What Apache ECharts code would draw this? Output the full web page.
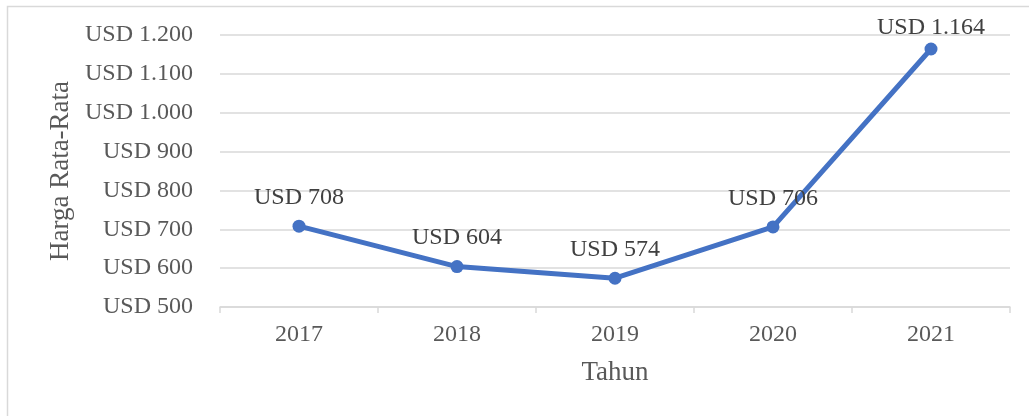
<!DOCTYPE html>
<html>
<head>
<meta charset="utf-8">
<script src="https://cdn.jsdelivr.net/npm/echarts@6/dist/echarts.min.js"></script>
<style>
  html, body { margin: 0; padding: 0; background: #fff; }
  #main { width: 1029px; height: 416px; }
</style>
</head>
<body>
<div id="main"></div>
<script>
// data
var years = ['2017', '2018', '2019', '2020', '2021']
var hargaRata = [708, 604, 574, 706, 1164]

// format angka gaya Indonesia: 1164 -> 1.164
function usd(v) {
  return 'USD ' + String(v).replace(/\B(?=(\d{3})+(?!\d))/g, '.')
}

var chart = echarts.init(document.getElementById('main'))
var font = '"Liberation Serif", "Times New Roman", serif'

// label titik terakhir lebih dekat ke titiknya (seperti gambar asli)
var seriesData = hargaRata.map(function (v, i) {
  if (i === hargaRata.length - 1) return { value: v, label: { distance: 3 } }
  return v
})

var option = {
  backgroundColor: '#fff',
  graphic: [{
    type: 'rect',
    shape: { x: 7.5, y: 6.5, width: 1040, height: 420 },
    style: { fill: 'none', stroke: '#d9d9d9', lineWidth: 1.5 },
    silent: true
  }],
  grid: { left: 220, right: 19, top: 35, bottom: 109 },
  xAxis: {
    type: 'category',
    data: years,
    boundaryGap: true,
    name: 'Tahun',
    nameLocation: 'middle',
    nameGap: 52,
    nameTextStyle: { fontFamily: font, fontSize: 27, color: '#595959' },
    axisLine: { lineStyle: { color: '#d9d9d9', width: 1.5 } },
    axisTick: { show: true, length: 6, lineStyle: { color: '#d9d9d9', width: 1.5 } },
    axisLabel: { fontFamily: font, fontSize: 24, color: '#595959', margin: 16 }
  },
  yAxis: {
    type: 'value',
    min: 500,
    max: 1200,
    interval: 100,
    name: 'Harga Rata-Rata',
    nameLocation: 'middle',
    nameGap: 144,
    nameTextStyle: { fontFamily: font, fontSize: 27, color: '#595959' },
    axisLine: { show: false },
    axisTick: { show: false },
    axisLabel: { fontFamily: font, fontSize: 24, color: '#595959', margin: 27, formatter: usd },
    splitLine: { lineStyle: { color: '#d9d9d9', width: 1.5 } }
  },
  series: [{
    type: 'line',
    data: seriesData,
    color: '#4472C4',
    lineStyle: { width: 5, color: '#4472C4' },
    symbol: 'circle',
    symbolSize: 13,
    itemStyle: { color: '#4472C4' },
    label: {
      show: true,
      position: 'top',
      distance: 10,
      fontFamily: font,
      fontSize: 24,
      color: '#404040',
      formatter: function (p) { return usd(p.value) }
    }
  }]
}

chart.setOption(option)
</script>
</body>
</html>
